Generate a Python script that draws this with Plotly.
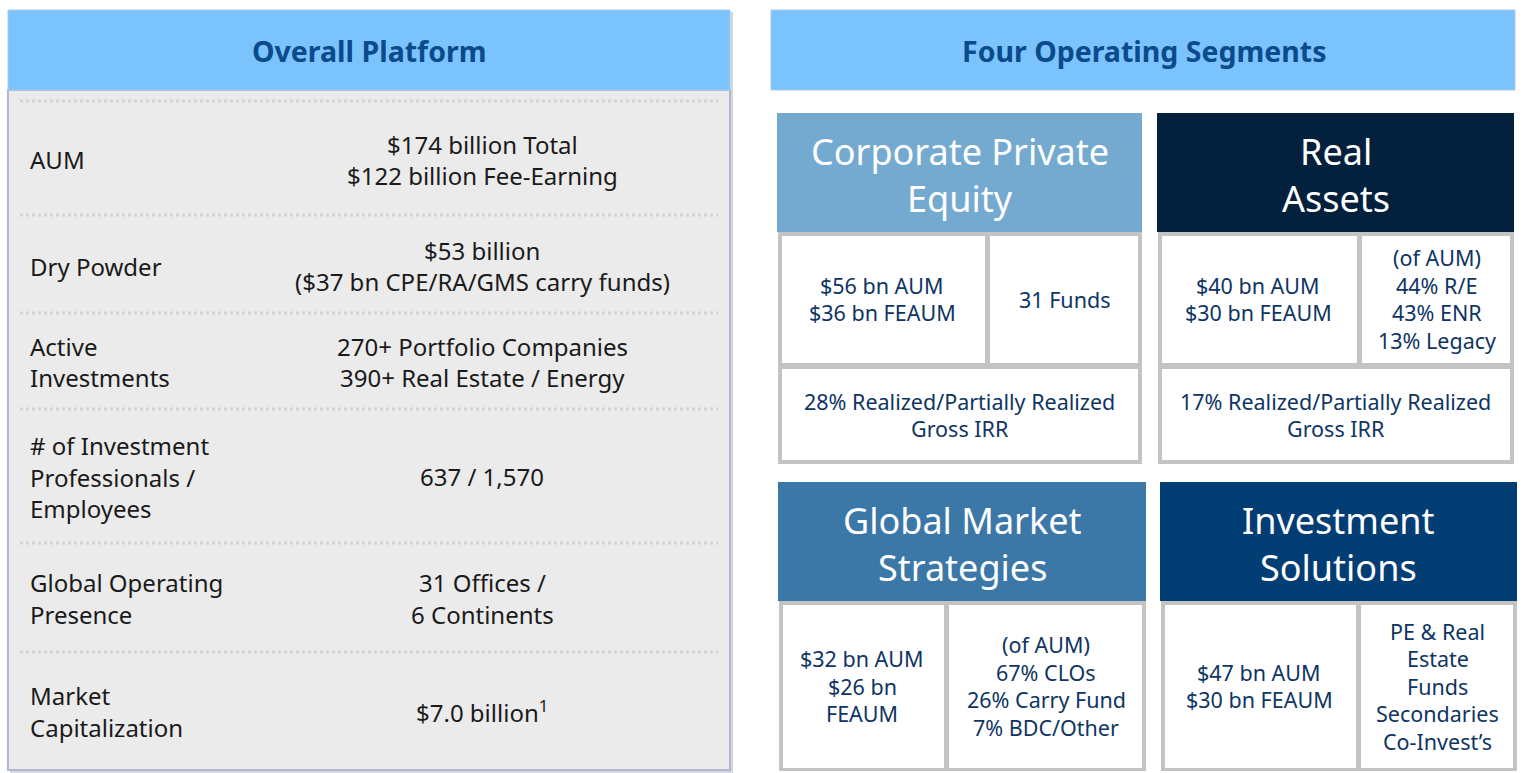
import plotly.graph_objects as go

# ---------------- data ----------------
panel_titles = ["Overall Platform", "Four Operating Segments"]

platform_labels = [
    ["AUM"],
    ["Dry Powder"],
    ["Active", "Investments"],
    ["# of Investment", "Professionals /", "Employees"],
    ["Global Operating", "Presence"],
    ["Market", "Capitalization"],
]
platform_values = [
    ["$174 billion Total", "$122 billion Fee-Earning"],
    ["$53 billion", "($37 bn CPE/RA/GMS carry funds)"],
    ["270+ Portfolio Companies", "390+ Real Estate / Energy"],
    ["637 / 1,570"],
    ["31 Offices /", "6 Continents"],
    ["$7.0 billion<sup>1</sup>"],
]

segment_names = [
    ["Corporate Private", "Equity"],
    ["Real", "Assets"],
    ["Global Market", "Strategies"],
    ["Investment", "Solutions"],
]
segment_aum = [
    ["$56 bn AUM", "$36 bn FEAUM"],
    ["$40 bn AUM", "$30 bn FEAUM"],
    ["$32 bn AUM", "$26 bn", "FEAUM"],
    ["$47 bn AUM", "$30 bn FEAUM"],
]
segment_detail = [
    ["31 Funds"],
    ["(of AUM)", "44% R/E", "43% ENR", "13% Legacy"],
    ["(of AUM)", "67% CLOs", "26% Carry Fund", "7% BDC/Other"],
    ["PE & Real", "Estate", "Funds", "Secondaries", "Co-Invest\u2019s"],
]
segment_irr = [
    ["28% Realized/Partially Realized", "Gross IRR"],
    ["17% Realized/Partially Realized", "Gross IRR"],
    None,
    None,
]

# ---------------- styling / layout ----------------
FONT = "Noto Sans"
LIGHT_BLUE = "#7AC3FC"
TITLE_BLUE = "#0B4A8B"
PANEL_GRAY = "#EBEBEB"
BORDER = "#B2B6CE"
BODY_TEXT = "#1A1A1A"
SEG_TEXT = "#0E3563"
CELL_GRAY = "#C3C3C3"
seg_colors = ["#75AAD0", "#03203D", "#3B78A7", "#023D73"]

shapes = []
annotations = []


def rect(x0, y0, x1, y1, fill, line_color=None, line_width=0, layer="below"):
    shapes.append(dict(type="rect", xref="x", yref="y", x0=x0, y0=y0, x1=x1, y1=y1,
                       fillcolor=fill, layer=layer,
                       line=dict(color=line_color or fill, width=line_width)))


def text(x, y, s, size, color, anchor="center", bold=False):
    if bold:
        s = "<b>" + s + "</b>"
    annotations.append(dict(x=x, y=y, xref="x", yref="y", text=s, showarrow=False,
                            xanchor=anchor, yanchor="middle",
                            font=dict(family=FONT, size=size, color=color)))


def lines(x, ys, items, size, color, anchor="center"):
    for y, s in zip(ys, items):
        text(x, y, s, size, color, anchor)


# ---- left panel ----
rect(10, 12, 733, 773, "#D4D6E0")  # shadow
rect(8, 90, 730, 770, PANEL_GRAY, BORDER, 2)
rect(8, 10, 730, 90, LIGHT_BLUE, "#A9C9E8", 1)
text(369, 51, panel_titles[0], 28.5, TITLE_BLUE, bold=True)

sep_y = [101, 215, 313, 409, 543, 652]
for y in sep_y:
    shapes.append(dict(type="line", xref="x", yref="y", x0=20, x1=718, y0=y, y1=y,
                       line=dict(color="#D3D3D3", width=3, dash="dot"), layer="above"))

label_rows = [[159], [266], [346, 377], [445, 477, 508], [582, 614], [695, 727]]
value_rows = [[144, 175], [250, 281], [346, 377], [476], [582, 614], [711]]
for labs, vals, ly, vy in zip(platform_labels, platform_values, label_rows, value_rows):
    lines(28, ly, labs, 24, BODY_TEXT, anchor="left")
    lines(482, vy, vals, 24, BODY_TEXT)

# ---- right panel header ----
rect(771, 10, 1515, 90, LIGHT_BLUE, "#A9C9E8", 1)
text(1144, 51, panel_titles[1], 28.5, TITLE_BLUE, bold=True)

# segment geometry: (x0, x1, header y0, header y1, body y1, divider x, split y)
geoms = [
    (777, 1142, 113, 232, 464, 987, 366),
    (1157, 1514, 113, 232, 464, 1359, 366),
    (778, 1146, 482, 601, 771, 946, None),
    (1160, 1517, 482, 601, 771, 1358, None),
]

for i, (x0, x1, hy0, hy1, by1, dx, sy) in enumerate(geoms):
    rect(x0, hy0, x1, hy1, seg_colors[i])
    cx = (x0 + x1) / 2
    lines(cx, [hy0 + 38, hy0 + 85], segment_names[i], 36, "white")
    # body: gray frame with white cells
    rect(x0 + 1, hy1, x1, by1, CELL_GRAY)
    g = 4
    top_bottom = sy if sy is not None else by1
    rect(x0 + 1 + g, hy1 + g, dx - 2, top_bottom - 3, "white")
    rect(dx + 3, hy1 + g, x1 - g, top_bottom - 3, "white")
    if sy is not None:
        rect(x0 + 1 + g, sy + 3, x1 - g, by1 - g, "white")
    lcx = (x0 + dx) / 2
    rcx = (dx + x1) / 2
    mid_top = (hy1 + top_bottom) / 2
    n = len(segment_aum[i])
    ys = [mid_top + (k - (n - 1) / 2) * 27.5 for k in range(n)]
    lines(lcx, ys, segment_aum[i], 21.5, SEG_TEXT)
    n = len(segment_detail[i])
    ys = [mid_top + (k - (n - 1) / 2) * 27.5 for k in range(n)]
    lines(rcx, ys, segment_detail[i], 21.5, SEG_TEXT)
    if segment_irr[i] is not None:
        mb = (sy + by1) / 2
        lines(cx, [mb - 13.5, mb + 13.5], segment_irr[i], 21.5, SEG_TEXT)

fig = go.Figure()
fig.update_layout(
    width=1525, height=773,
    margin=dict(l=0, r=0, t=0, b=0),
    paper_bgcolor="white", plot_bgcolor="white",
    xaxis=dict(range=[0, 1525], visible=False, fixedrange=True),
    yaxis=dict(range=[773, 0], visible=False, fixedrange=True),
    shapes=shapes, annotations=annotations, showlegend=False,
)
fig.write_html("out.html", config={"displayModeBar": False},
               post_script="document.body.style.margin='0';document.body.style.overflow='hidden';")
